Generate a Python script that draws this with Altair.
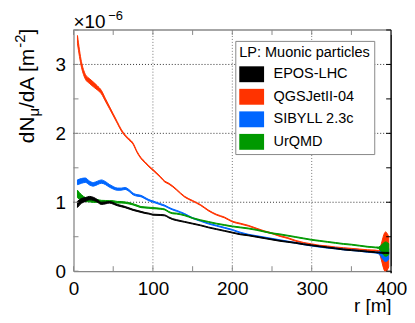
import altair as alt
import pandas as pd

# ---------------- data ----------------
r = [5, 10, 15, 20, 25, 30, 35, 40, 45, 50, 55, 60, 65, 70, 75, 80, 85, 90, 95, 100,
     110, 115, 120, 125, 130,
     140, 150, 160, 170, 180, 190, 200, 210, 220, 230, 240, 250, 260, 270, 280, 290,
     300, 310, 320, 330, 340, 350, 360, 370, 380,
     384, 393, 397]

series = ["EPOS-LHC", "QGSJetII-04", "SIBYLL 2.3c", "UrQMD"]
colors = ["#000000", "#ff3300", "#0066ff", "#009900"]

epos_mid = [0.97, 1.02, 1.04, 1.06, 1.05, 1.02, 0.985, 0.99, 1.00, 0.985, 0.96, 0.945, 0.93, 0.91, 0.89, 0.875, 0.86, 0.845, 0.835, 0.82,
            0.815, 0.81, 0.78, 0.755, 0.74,
            0.715, 0.69, 0.665, 0.635, 0.61, 0.585, 0.56, 0.535, 0.52, 0.50, 0.48, 0.46, 0.44, 0.425, 0.41, 0.39,
            0.375, 0.36, 0.345, 0.33, 0.315, 0.305, 0.295, 0.285, 0.275,
            0.27, 0.265, 0.265]
epos_err = [0.045, 0.035, 0.028, 0.025, 0.022, 0.02, 0.016, 0.014, 0.012, 0.012, 0.01, 0.01, 0.009, 0.009, 0.008, 0.008, 0.008, 0.007, 0.007, 0.007,
            0.007, 0.007, 0.007, 0.007, 0.007,
            0.006, 0.006, 0.006, 0.006, 0.006, 0.006, 0.006, 0.006, 0.006, 0.006, 0.006, 0.006, 0.006, 0.006, 0.006, 0.006,
            0.006, 0.006, 0.006, 0.006, 0.006, 0.006, 0.006, 0.006, 0.006,
            0.006, 0.008, 0.008]

qgs_mid = [3.36, 3.00, 2.82, 2.76, 2.71, 2.66, 2.60, 2.49, 2.38, 2.27, 2.16, 2.05, 1.97, 1.91, 1.85, 1.73, 1.64, 1.58, 1.52, 1.47,
           1.36, 1.30, 1.27, 1.23, 1.18,
           1.08, 1.02, 0.96, 0.88, 0.82, 0.78, 0.72, 0.69, 0.66, 0.62, 0.58, 0.55, 0.51, 0.48, 0.44, 0.41,
           0.39, 0.37, 0.36, 0.345, 0.335, 0.325, 0.315, 0.305, 0.30,
           0.29, 0.28, 0.28]
qgs_err = [0.06, 0.04, 0.035, 0.035, 0.035, 0.03, 0.025, 0.02, 0.016, 0.014, 0.012, 0.011, 0.01, 0.01, 0.009, 0.009, 0.008, 0.008, 0.008, 0.008,
           0.007, 0.007, 0.007, 0.007, 0.007,
           0.006, 0.006, 0.006, 0.006, 0.006, 0.006, 0.006, 0.006, 0.006, 0.006, 0.006, 0.006, 0.006, 0.006, 0.006, 0.006,
           0.006, 0.006, 0.006, 0.006, 0.006, 0.006, 0.006, 0.006, 0.006,
           0.01, 0.29, 0.22]

sib_mid = [1.29, 1.31, 1.32, 1.28, 1.26, 1.28, 1.30, 1.28, 1.24, 1.21, 1.19, 1.19, 1.20, 1.17, 1.12, 1.10, 1.09, 1.06, 1.03, 1.01,
           0.97, 0.95, 0.92, 0.895, 0.875,
           0.83, 0.77, 0.73, 0.69, 0.66, 0.63, 0.60, 0.56, 0.53, 0.51, 0.49, 0.47, 0.45, 0.43, 0.41, 0.39,
           0.37, 0.355, 0.34, 0.33, 0.315, 0.305, 0.295, 0.28, 0.27,
           0.265, 0.25, 0.25]
sib_err = [0.035, 0.035, 0.032, 0.028, 0.026, 0.025, 0.024, 0.022, 0.02, 0.018, 0.016, 0.015, 0.014, 0.013, 0.012, 0.011, 0.01, 0.01, 0.009, 0.009,
           0.008, 0.008, 0.007, 0.007, 0.007,
           0.006, 0.006, 0.006, 0.006, 0.006, 0.006, 0.006, 0.006, 0.006, 0.006, 0.006, 0.006, 0.006, 0.006, 0.006, 0.006,
           0.006, 0.006, 0.006, 0.006, 0.006, 0.006, 0.006, 0.006, 0.006,
           0.012, 0.11, 0.08]

urq_mid = [1.12, 1.07, 1.04, 1.03, 1.02, 1.02, 1.01, 1.01, 1.01, 1.01, 1.00, 1.00, 0.995, 0.985, 0.97, 0.95, 0.93, 0.925, 0.92, 0.915,
           0.905, 0.895, 0.86, 0.84, 0.835,
           0.81, 0.77, 0.74, 0.715, 0.69, 0.67, 0.65, 0.635, 0.62, 0.60, 0.575, 0.55, 0.535, 0.515, 0.495, 0.475,
           0.455, 0.44, 0.425, 0.41, 0.395, 0.385, 0.37, 0.355, 0.345,
           0.34, 0.32, 0.32]
urq_err = [0.055, 0.04, 0.028, 0.024, 0.022, 0.02, 0.018, 0.016, 0.014, 0.013, 0.012, 0.011, 0.01, 0.01, 0.009, 0.009, 0.008, 0.008, 0.008, 0.008,
           0.007, 0.007, 0.007, 0.007, 0.007,
           0.006, 0.006, 0.006, 0.006, 0.006, 0.006, 0.006, 0.006, 0.006, 0.006, 0.006, 0.006, 0.006, 0.006, 0.006, 0.006,
           0.006, 0.006, 0.006, 0.006, 0.006, 0.006, 0.006, 0.006, 0.006,
           0.01, 0.105, 0.08]

x_ticks = [0, 50, 100, 150, 200, 250, 300, 350, 400]
x_labels = [0, 100, 200, 300, 400]
y_ticks = [0, 0.5, 1, 1.5, 2, 2.5, 3, 3.5]
y_labels = [0, 1, 2, 3]
x_grid = [100, 200, 300]
y_grid = [1, 2, 3]

# ---------------- build table ----------------
rows = []
for name, mids, errs in [("EPOS-LHC", epos_mid, epos_err), ("QGSJetII-04", qgs_mid, qgs_err),
                         ("SIBYLL 2.3c", sib_mid, sib_err), ("UrQMD", urq_mid, urq_err)]:
    for ri, m, e in zip(r, mids, errs):
        rows.append({"r": ri, "lo": m - e, "hi": m + e, "series": name})
df = pd.DataFrame(rows)

W, H = 320, 243
FONT = "Liberation Sans"

xscale = alt.Scale(domain=[0, 400], nice=False, zero=False)
yscale = alt.Scale(domain=[0, 3.5], nice=False, zero=False)
cscale = alt.Scale(domain=series, range=colors)

legend = alt.Legend(
    orient="none", legendX=163, legendY=11,
    title="LP: Muonic particles", titleFont=FONT, titleFontSize=14.6, titleFontWeight="normal",
    titleColor="#000", titlePadding=7,
    labelFont=FONT, labelFontSize=14.6, labelColor="#000", labelOffset=14,
    symbolType="M-1.5625,-1H1.5625V1H-1.5625Z", symbolSize=256, symbolOffset=4.5,
    symbolStrokeWidth=0, symbolOpacity=1,
    rowPadding=6.7, padding=4, strokeColor="#888", fillColor="#fff",
)

# grid
gx = alt.Chart(pd.DataFrame({"v": x_grid})).mark_rule(
    color="#777", strokeDash=[1, 2], strokeWidth=1).encode(
    x=alt.X("v:Q", scale=xscale), y=alt.value(0), y2=alt.value(H))
gy = alt.Chart(pd.DataFrame({"v": y_grid})).mark_rule(
    color="#333", strokeDash=[1, 2], strokeWidth=1).encode(
    y=alt.Y("v:Q", scale=yscale), x=alt.value(0), x2=alt.value(W))

# bands (draw order: red, blue, green, black)
bands = []
for name in ["QGSJetII-04", "SIBYLL 2.3c", "UrQMD", "EPOS-LHC"]:
    bands.append(
        alt.Chart(df).transform_filter(alt.datum.series == name)
        .mark_area(interpolate="monotone", strokeWidth=1, opacity=1, clip=True)
        .encode(
            x=alt.X("r:Q", scale=xscale,
                    axis=alt.Axis(values=x_labels, grid=False, ticks=False, domainColor="#888",
                                  domainWidth=1.3, labelFont=FONT, labelFontSize=19, labelColor="#000",
                                  labelPadding=8, labelFlush=False, title="r [m]", titleFont=FONT,
                                  titleFontSize=19, titleFontWeight="normal", titleColor="#000",
                                  titleAnchor="end", titleAlign="right", titleBaseline="alphabetic",
                                  titleX=W, titleY=41)),
            y=alt.Y("lo:Q", scale=yscale,
                    axis=alt.Axis(values=y_labels, format="d", grid=False, ticks=False, domainColor="#888",
                                  domainWidth=1.3, labelFont=FONT, labelFontSize=19, labelColor="#000",
                                  labelPadding=8, title=None)),
            y2="hi:Q",
            color=alt.Color("series:N", scale=cscale, legend=legend),
            stroke=alt.Stroke("series:N", scale=cscale, legend=None),
        )
    )

# frame: top & right
top_line = alt.Chart(pd.DataFrame({"v": [0]})).mark_rule(color="#888", strokeWidth=1.3).encode(
    x=alt.value(0), x2=alt.value(W), y=alt.value(0))
right_line = alt.Chart(pd.DataFrame({"v": [0]})).mark_rule(color="#000", strokeWidth=1.5).encode(
    x=alt.value(W), y=alt.value(0), y2=alt.value(H + 2))

# inward ticks
tx = pd.DataFrame({"v": x_ticks})
ty = pd.DataFrame({"v": y_ticks})
tick_b = alt.Chart(tx).mark_rule(color="#888", strokeWidth=1).encode(
    x=alt.X("v:Q", scale=xscale), y=alt.value(H), y2=alt.value(H - 5))
tick_t = alt.Chart(tx).mark_rule(color="#888", strokeWidth=1).encode(
    x=alt.X("v:Q", scale=xscale), y=alt.value(0), y2=alt.value(5))
tick_l = alt.Chart(ty).mark_rule(color="#888", strokeWidth=1).encode(
    y=alt.Y("v:Q", scale=yscale), x=alt.value(0), x2=alt.value(5))
tick_r = alt.Chart(ty).mark_rule(color="#000", strokeWidth=1).encode(
    y=alt.Y("v:Q", scale=yscale), x=alt.value(W), x2=alt.value(W - 5))

# y title pieces: dN_mu/dA [m^-2]
def txt(s, x, y, size, angle=270):
    return alt.Chart(pd.DataFrame({"t": [s]})).mark_text(
        font=FONT, fontSize=size, angle=angle, align="left", baseline="alphabetic", color="#000"
    ).encode(text="t:N", x=alt.value(x), y=alt.value(y))

ytitle = [
    txt("dN", -40, 114, 21),
    txt("\u03bc", -35, 87.2, 15),
    txt("/dA [m", -40, 78.6, 21),
    txt("-2", -49, 17.9, 15),
    txt("]", -40, 4.6, 21),
]
expo = [
    txt("\u00d710", 0, -2, 19, angle=0),
    txt("\u22126", 35, -10, 13, angle=0),
]

chart = alt.layer(gx, gy, *bands, top_line, right_line, tick_b, tick_t, tick_l, tick_r,
                  *ytitle, *expo).properties(
    width=W, height=H,
    autosize=alt.AutoSizeParams(type="none"),
    padding={"left": 66, "top": 21, "right": 16, "bottom": 43},
).configure_view(stroke=None)

chart.save("out.html", embed_options={"renderer": "svg", "actions": False})
